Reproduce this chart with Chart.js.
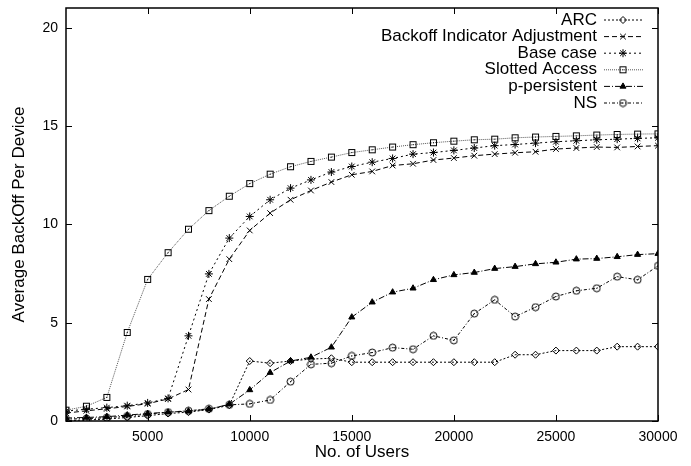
<!DOCTYPE html>
<html>
<head>
<meta charset="utf-8">
<script src="https://cdn.jsdelivr.net/npm/chart.js@4.4.1/dist/chart.umd.min.js"></script>
<style>
  html, body { margin: 0; padding: 0; background: #fff; }
  #wrap { width: 691px; height: 466px; }
</style>
</head>
<body>
<div id="wrap"><canvas id="chart"></canvas></div>
<script>
// x values: number of users
const users = [
  1000, 2000, 3000, 4000, 5000, 6000, 7000, 8000, 9000, 10000,
  11000, 12000, 13000, 14000, 15000, 16000, 17000, 18000, 19000, 20000,
  21000, 22000, 23000, 24000, 25000, 26000, 27000, 28000, 29000, 30000,
];

const arc = [
  0.02, 0.05, 0.1, 0.18, 0.27, 0.38, 0.45, 0.58, 0.8, 3.05,
  2.94, 3.05, 3.15, 3.19, 2.99, 2.99, 2.99, 2.99, 2.99, 2.99,
  2.99, 2.99, 3.37, 3.37, 3.58, 3.58, 3.58, 3.78, 3.78, 3.78,
];
const backoffIndicator = [
  0.4, 0.52, 0.62, 0.74, 0.88, 1.12, 1.6, 6.2, 8.23, 9.69,
  10.57, 11.25, 11.72, 12.15, 12.52, 12.69, 12.99, 13.08, 13.27, 13.37,
  13.49, 13.57, 13.64, 13.69, 13.83, 13.88, 13.93, 13.91, 13.96, 14.0,
];
const baseCase = [
  0.5, 0.6, 0.68, 0.78, 0.92, 1.15, 4.33, 7.48, 9.3, 10.4,
  11.25, 11.84, 12.26, 12.66, 12.94, 13.16, 13.35, 13.57, 13.65, 13.76,
  13.88, 14.0, 14.06, 14.13, 14.2, 14.25, 14.3, 14.33, 14.37, 14.4,
];
const slottedAccess = [
  0.55, 0.75, 1.2, 4.5, 7.2, 8.56, 9.75, 10.7, 11.43, 12.07,
  12.55, 12.93, 13.2, 13.42, 13.65, 13.79, 13.93, 14.05, 14.15, 14.23,
  14.3, 14.33, 14.4, 14.44, 14.47, 14.5, 14.54, 14.57, 14.59, 14.6,
];
const pPersistent = [
  0.15, 0.18, 0.22, 0.3, 0.38, 0.45, 0.5, 0.6, 0.85, 1.58,
  2.46, 3.05, 3.24, 3.75, 5.28, 6.04, 6.55, 6.75, 7.18, 7.43,
  7.55, 7.75, 7.85, 7.99, 8.07, 8.23, 8.26, 8.35, 8.46, 8.51,
];
const ns = [
  0.1, 0.12, 0.17, 0.25, 0.35, 0.45, 0.52, 0.62, 0.82, 0.87,
  1.07, 2.0, 2.88, 2.94, 3.31, 3.48, 3.73, 3.65, 4.33, 4.1,
  5.46, 6.16, 5.31, 5.79, 6.33, 6.62, 6.75, 7.34, 7.18, 7.89,
];

const xTicks = [5000, 10000, 15000, 20000, 25000, 30000];
const yTicks = [0, 5, 10, 15, 20];

const FONT = "'Liberation Sans', Arial, Helvetica, sans-serif";

// marker with a dot in the middle (gnuplot style square / circle)
function dottedMarker(shape) {
  const c = document.createElement("canvas");
  c.width = 9;
  c.height = 9;
  const g = c.getContext("2d");
  g.strokeStyle = "#000";
  g.fillStyle = "#000";
  g.lineWidth = 1;
  if (shape === "square") {
    g.strokeRect(1.5, 1.5, 6, 6);
  } else {
    g.beginPath();
    g.arc(4.5, 4.5, 3.5, 0, Math.PI * 2);
    g.stroke();
  }
  g.fillRect(4, 4, 1, 1);
  return c;
}

const squareDot = dottedMarker("square");
const circleDot = dottedMarker("circle");

function series(label, values, dash, marker, color) {
  return {
    label: label,
    data: users.map((u, i) => ({ x: u, y: values[i] })),
    borderColor: color || "#000",
    backgroundColor: "#000",
    borderWidth: 1,
    borderDash: dash,
    pointStyle: marker.style,
    pointRadius: marker.radius,
    pointBorderWidth: 1,
    pointBorderColor: "#000",
    pointBackgroundColor: marker.fill || "rgba(0,0,0,0)",
    tension: 0,
  };
}

const datasets = [
  series("ARC", arc, [2, 2], { style: "rectRot", radius: 3.5 }),
  series("Backoff Indicator Adjustment", backoffIndicator, [5, 3], { style: "crossRot", radius: 4 }),
  series("Base case", baseCase, [2, 3], { style: "star", radius: 4 }),
  series("Slotted Access", slottedAccess, [1, 1], { style: squareDot, radius: 4 }, "#555"),
  series("p-persistent", pPersistent, [6, 2, 1, 2], { style: "triangle", radius: 3.5, fill: "#000" }),
  series("NS", ns, [3, 2, 1, 2], { style: circleDot, radius: 4 }),
];

// frame, inward ticks and gnuplot-like legend
const gnuplotLook = {
  id: "gnuplotLook",
  afterDraw(chart) {
    const ctx = chart.ctx;
    const a = chart.chartArea;
    const xs = chart.scales.x;
    const ys = chart.scales.y;
    ctx.save();
    ctx.strokeStyle = "#000";
    ctx.lineWidth = 1.5;
    ctx.setLineDash([]);
    ctx.strokeRect(a.left, a.top, a.right - a.left, a.bottom - a.top);
    ctx.lineWidth = 1;
    ctx.beginPath();
    xTicks.forEach((v) => {
      const px = Math.round(xs.getPixelForValue(v)) + 0.5;
      ctx.moveTo(px, a.bottom);
      ctx.lineTo(px, a.bottom - 6);
      ctx.moveTo(px, a.top);
      ctx.lineTo(px, a.top + 6);
    });
    yTicks.forEach((v) => {
      const py = Math.round(ys.getPixelForValue(v)) + 0.5;
      ctx.moveTo(a.left, py);
      ctx.lineTo(a.left + 6, py);
      ctx.moveTo(a.right, py);
      ctx.lineTo(a.right - 6, py);
    });
    ctx.stroke();

    // legend
    ctx.font = "17px " + FONT;
    ctx.textAlign = "right";
    ctx.textBaseline = "middle";
    chart.data.datasets.forEach((ds, i) => {
      const y = 20 + i * 16.6;
      ctx.fillStyle = "#000";
      ctx.fillText(ds.label, 597, y);
      ctx.strokeStyle = ds.borderColor;
      ctx.lineWidth = 1;
      ctx.setLineDash(ds.borderDash);
      ctx.beginPath();
      ctx.moveTo(604, y);
      ctx.lineTo(643, y);
      ctx.stroke();
      ctx.setLineDash([]);
      ctx.strokeStyle = "#000";
      ctx.fillStyle = ds.pointBackgroundColor;
      Chart.helpers.drawPoint(ctx, {
        pointStyle: ds.pointStyle,
        radius: ds.pointRadius,
        borderWidth: 1,
        rotation: 0,
      }, 623, y);
    });
    ctx.restore();
  },
};

Chart.defaults.font.family = FONT;
Chart.defaults.color = "#000";

new Chart(document.getElementById("chart").getContext("2d"), {
  type: "line",
  data: { datasets: datasets },
  options: {
    responsive: true,
    maintainAspectRatio: false,
    animation: false,
    layout: { padding: { top: 8, right: 33, left: 0, bottom: 0 } },
    plugins: {
      legend: { display: false },
      tooltip: { enabled: false },
    },
    scales: {
      x: {
        type: "linear",
        min: 1000,
        max: 30000,
        afterBuildTicks: (scale) => {
          scale.ticks = xTicks.map((v) => ({ value: v }));
        },
        afterFit: (scale) => {
          scale.height = 45;
        },
        grid: { display: false, drawTicks: false },
        border: { display: false },
        ticks: {
          font: { size: 14 },
          padding: 8,
          maxRotation: 0,
          callback: (value) => String(value),
        },
        title: {
          display: true,
          text: "No. of Users",
          font: { size: 17 },
          padding: { top: 0, bottom: 3 },
        },
      },
      y: {
        min: 0,
        max: 21,
        afterBuildTicks: (scale) => {
          scale.ticks = yTicks.map((v) => ({ value: v }));
        },
        afterFit: (scale) => {
          scale.width = 66;
          scale.paddingTop = 0;
          scale.paddingBottom = 0;
        },
        grid: { display: false, drawTicks: false },
        border: { display: false },
        ticks: {
          font: { size: 14 },
          padding: 8,
          callback: (value) => String(value),
        },
        title: {
          display: true,
          text: "Average BackOff Per Device",
          font: { size: 17 },
          padding: { top: 9, bottom: 0 },
        },
      },
    },
  },
  plugins: [gnuplotLook],
});
</script>
</body>
</html>
